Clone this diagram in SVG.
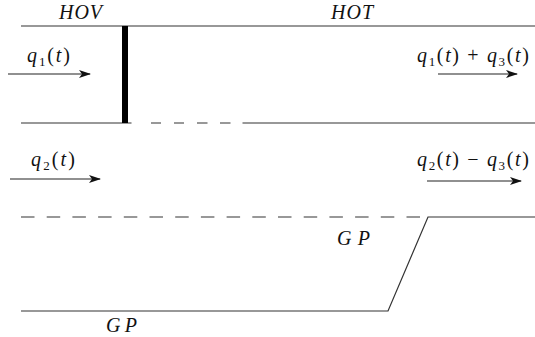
<svg xmlns="http://www.w3.org/2000/svg" width="535" height="337" viewBox="0 0 535 337">
<style>
.ln{stroke:#333;stroke-width:1.2;fill:none}
.ar{stroke:#222;stroke-width:1.2;fill:none;marker-end:url(#ah)}
text{font-family:"Liberation Serif","DejaVu Serif",serif;font-size:20px;fill:#111}
.it{font-style:italic}
.lb{font-size:20px;font-style:italic}
.sub{font-size:13px;font-style:normal}
</style>
<defs>
<marker id="ah" viewBox="0 0 12 8" refX="11" refY="4" markerWidth="12" markerHeight="8" markerUnits="userSpaceOnUse" orient="auto">
<path d="M0,0 L12,4 L0,8 L3,4 Z" fill="#111"/>
</marker>
</defs>
<g id="lanes">
<line class="ln" x1="21" y1="26" x2="535" y2="26"/>
<path class="ln" d="M21,123 H131.5 M151,123 H161 M174,123 H184 M197,123 H207.5 M220,123 H230.5 M242.5,123 H535"/>
<line class="ln" x1="21" y1="217" x2="428" y2="217" stroke-dasharray="13.5 12.2"/>
<polyline class="ln" points="21,311 388,311 428,217 535,217"/>
</g>
<g id="barrier"><rect x="122" y="26" width="6" height="97" fill="#000"/></g>
<g id="connectors">
<line class="ar" x1="8" y1="74" x2="90" y2="74"/>
<line class="ar" x1="438" y1="74" x2="517" y2="74"/>
<line class="ar" x1="10" y1="179" x2="100" y2="179"/>
<line class="ar" x1="427" y1="181" x2="521" y2="181"/>
</g>
<g id="labels">
<text class="lb" x="59" y="19" textLength="43" lengthAdjust="spacing">HOV</text>
<text class="lb" x="331" y="19" textLength="42" lengthAdjust="spacing">HOT</text>
<text x="27" y="62" textLength="43" lengthAdjust="spacing"><tspan class="it">q</tspan><tspan class="sub" dy="4">1</tspan><tspan dy="-4">(</tspan><tspan class="it">t</tspan>)</text>
<text x="417" y="62" textLength="112" lengthAdjust="spacing"><tspan class="it">q</tspan><tspan class="sub" dy="4">1</tspan><tspan dy="-4">(</tspan><tspan class="it">t</tspan>) + <tspan class="it">q</tspan><tspan class="sub" dy="4">3</tspan><tspan dy="-4">(</tspan><tspan class="it">t</tspan>)</text>
<text x="31" y="166" textLength="44" lengthAdjust="spacing"><tspan class="it">q</tspan><tspan class="sub" dy="4">2</tspan><tspan dy="-4">(</tspan><tspan class="it">t</tspan>)</text>
<text x="417" y="166" textLength="112" lengthAdjust="spacing"><tspan class="it">q</tspan><tspan class="sub" dy="4">2</tspan><tspan dy="-4">(</tspan><tspan class="it">t</tspan>) − <tspan class="it">q</tspan><tspan class="sub" dy="4">3</tspan><tspan dy="-4">(</tspan><tspan class="it">t</tspan>)</text>
<text class="lb" x="337" y="245" textLength="33" lengthAdjust="spacing">GP</text>
<text class="lb" x="106" y="332" textLength="31" lengthAdjust="spacing">GP</text>
</g>
</svg>
